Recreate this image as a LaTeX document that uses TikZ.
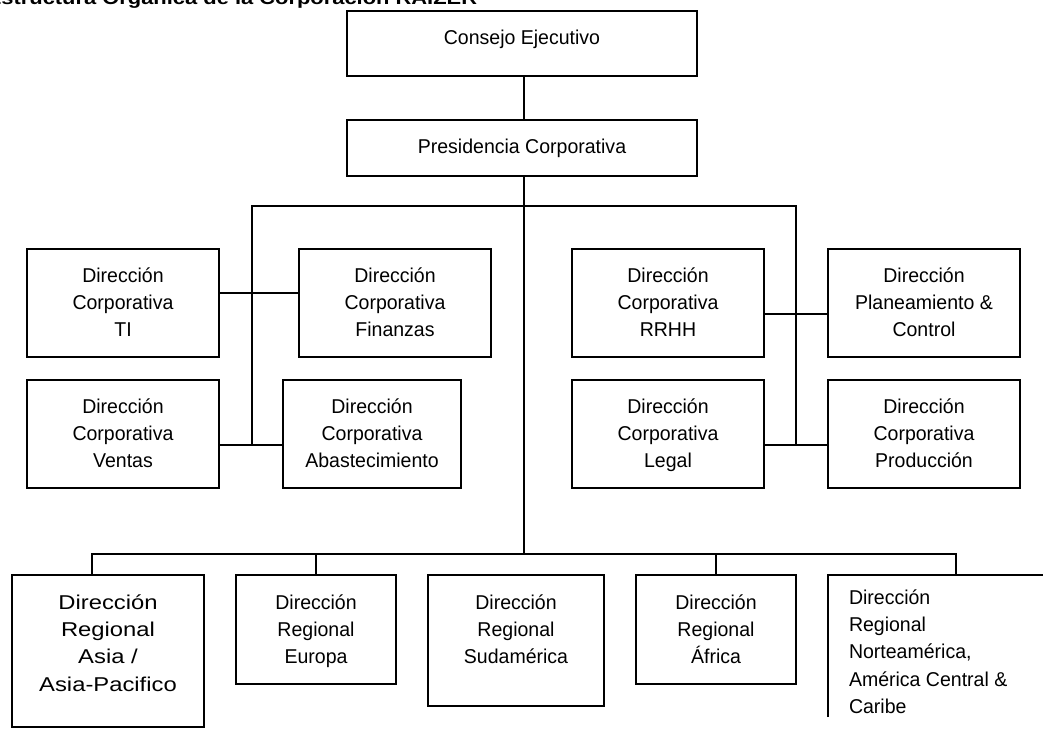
\documentclass[tikz,border=0pt]{standalone}
\usepackage{fontspec}
\setmainfont{Liberation Sans}
\newfontfamily\narrowfont[FakeStretch=0.976]{Liberation Sans}
\newfontfamily\widefont[FakeStretch=1.19]{Liberation Sans}
\usetikzlibrary{calc}

\begin{document}
\begin{tikzpicture}[
  x=0.75pt, y=-0.75pt,
  line width=1.2pt,
  orgbox/.style={draw, line width=1.2pt, inner sep=0pt, outer sep=0pt, anchor=north west},
  lbl/.style={inner sep=0pt, outer sep=0pt, anchor=north, align=center,
              font=\narrowfont\fontsize{15}{20.6}\selectfont},
  lblwide/.style={lbl, font=\widefont\fontsize{15}{20.6}\selectfont},
  lblleft/.style={lbl, anchor=north west, align=left}
]
\useasboundingbox (0,0) rectangle (1043,745);
\clip (0,0) rectangle (1043,745);

% heading (runs off the top edge of the page)
\node[anchor=base west, inner sep=0pt, font=\widefont\bfseries\fontsize{13.8}{16}\selectfont]
  (title) at (-14,4.7) {Estructura Orgánica de la Corporación RAIZER};

% ---------- boxes: position = top-left corner, size in px ----------
\node[orgbox, minimum width=350*0.75pt, minimum height=65*0.75pt]  (consejo) at (347,11) {};
\node[orgbox, minimum width=350*0.75pt, minimum height=56*0.75pt]  (pres)    at (347,120) {};

\node[orgbox, minimum width=192*0.75pt, minimum height=108*0.75pt] (ti)   at (27,249) {};
\node[orgbox, minimum width=192*0.75pt, minimum height=108*0.75pt] (fin)  at (299,249) {};
\node[orgbox, minimum width=192*0.75pt, minimum height=108*0.75pt] (ven)  at (27,380) {};
\node[orgbox, minimum width=178*0.75pt, minimum height=108*0.75pt] (aba)  at (283,380) {};
\node[orgbox, minimum width=192*0.75pt, minimum height=108*0.75pt] (rrhh) at (572,249) {};
\node[orgbox, minimum width=192*0.75pt, minimum height=108*0.75pt] (plan) at (828,249) {};
\node[orgbox, minimum width=192*0.75pt, minimum height=108*0.75pt] (leg)  at (572,380) {};
\node[orgbox, minimum width=192*0.75pt, minimum height=108*0.75pt] (pro)  at (828,380) {};

\node[orgbox, minimum width=192*0.75pt, minimum height=152*0.75pt] (asia) at (12,575) {};
\node[orgbox, minimum width=160*0.75pt, minimum height=109*0.75pt] (eur)  at (236,575) {};
\node[orgbox, minimum width=176*0.75pt, minimum height=131*0.75pt] (sud)  at (428,575) {};
\node[orgbox, minimum width=160*0.75pt, minimum height=109*0.75pt] (afr)  at (636,575) {};

% last regional box continues past the right edge
\coordinate (nbl) at (828,717);
\coordinate (ntr) at (1050,575);
\draw (nbl) |- (ntr);

% ---------- labels ----------
\node[lbl] (consejo-t) at (522,44.5-14.4) {Consejo Ejecutivo};
\node[lbl] (pres-t)    at (522,153-14.4)  {Presidencia Corporativa};

\node[lbl] (ti-t)   at ($(ti.north)+(0,33-19.2)$)   {\strut Dirección\\Corporativa\\TI};
\node[lbl] (fin-t)  at ($(fin.north)+(0,33-19.2)$)  {\strut Dirección\\Corporativa\\Finanzas};
\node[lbl] (ven-t)  at ($(ven.north)+(0,33-19.2)$)  {\strut Dirección\\Corporativa\\Ventas};
\node[lbl] (aba-t)  at ($(aba.north)+(0,33-19.2)$)  {\strut Dirección\\Corporativa\\Abastecimiento};
\node[lbl] (rrhh-t) at ($(rrhh.north)+(0,33-19.2)$) {\strut Dirección\\Corporativa\\RRHH};
\node[lbl] (plan-t) at ($(plan.north)+(0,33-19.2)$) {\strut Dirección\\Planeamiento \&\\Control};
\node[lbl] (leg-t)  at ($(leg.north)+(0,33-19.2)$)  {\strut Dirección\\Corporativa\\Legal};
\node[lbl] (pro-t)  at ($(pro.north)+(0,33-19.2)$)  {\strut Dirección\\Corporativa\\Producción};

\node[lblwide] (asia-t) at ($(asia.north)+(0,34-19.2)$) {\strut Dirección\\Regional\\Asia /\\Asia-Pacifico};
\node[lbl] (eur-t) at ($(eur.north)+(0,34-19.2)$) {\strut Dirección\\Regional\\Europa};
\node[lbl] (sud-t) at ($(sud.north)+(0,34-19.2)$) {\strut Dirección\\Regional\\Sudamérica};
\node[lbl] (afr-t) at ($(afr.north)+(0,34-19.2)$) {\strut Dirección\\Regional\\África};
\node[lblleft] (nor-t) at (849,604-19.2) {\strut Dirección\\Regional\\Norteamérica,\\América Central \&\\Caribe};

% ---------- connectors ----------
\coordinate (cv)  at (524,0);     % main vertical axis
\coordinate (tl)  at (252,206);   % upper bus, left end
\coordinate (tr)  at (796,206);   % upper bus, right end
\coordinate (ll)  at (252,445);
\coordinate (lr)  at (796,445);
\coordinate (c1)  at (0,293);
\coordinate (c2)  at (0,314);
\coordinate (bb)  at (524,554);   % lower bus
\coordinate (ac)  at (92,575);    % drop to Asia
\coordinate (nc)  at (956,575);   % drop to the last regional box

\draw (cv |- consejo.south) -- (cv |- pres.north);
\draw (cv |- pres.south) -- (bb);
\draw (ll) -- (tl) -- (tr) -- (lr);

\draw (ti.east |- c1) -- (fin.west |- c1);
\draw (ven.east |- ll) -- (aba.west |- ll);
\draw (rrhh.east |- c2) -- (plan.west |- c2);
\draw (leg.east |- lr) -- (pro.west |- lr);

\draw (ac) -- (ac |- bb) -- (nc |- bb) -- (nc);
\draw (eur.north) -- (eur.north |- bb);
\draw (afr.north) -- (afr.north |- bb);
\end{tikzpicture}
\end{document}
